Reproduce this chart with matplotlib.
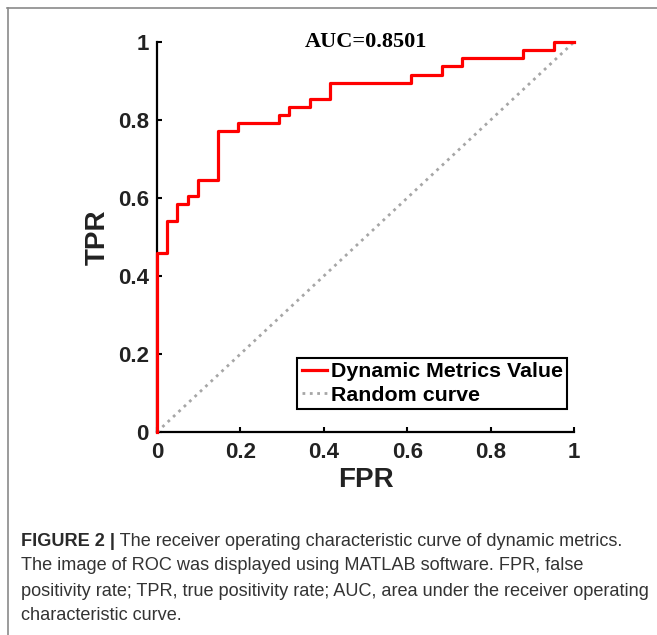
import matplotlib
matplotlib.use("Agg")
import matplotlib.pyplot as plt
from matplotlib.lines import Line2D

plt.rcParams["font.family"] = "Liberation Sans"

# ROC steps (41 negatives, 48 positives -> AUC 0.8501)
N_NEG = 41
N_POS = 48
fpr_counts = [0, 0, 1, 2, 3, 4, 6, 8, 12, 13, 15, 17, 25, 28, 30, 36, 39, 41]
tpr_counts = [0, 22, 26, 28, 29, 31, 37, 38, 39, 40, 41, 43, 44, 45, 46, 47, 48, 48]

random_x = [0, 1]
random_y = [0, 1]

tick_values = [0, 0.2, 0.4, 0.6, 0.8, 1]
tick_labels = ["0", "0.2", "0.4", "0.6", "0.8", "1"]

auc_text = "AUC=0.8501"

caption_bold = "FIGURE 2 |"
caption_lines = [
    " The receiver operating characteristic curve of dynamic metrics.",
    "The image of ROC was displayed using MATLAB software. FPR, false",
    "positivity rate; TPR, true positivity rate; AUC, area under the receiver operating",
    "characteristic curve.",
]

W, H = 657, 635
fig = plt.figure(figsize=(W / 100, H / 100), dpi=100)
fig.patch.set_facecolor("white")

# panel frame (open to the right / bottom like the cropped original)
fig.add_artist(Line2D([7 / W, 1], [1 - 8 / H, 1 - 8 / H], color="#8a8a8a", lw=1.2))
fig.add_artist(Line2D([7.5 / W, 7.5 / W], [0, 1 - 8 / H], color="#8a8a8a", lw=1.2))

ax = fig.add_axes([157 / W, 1 - 432 / H, 417 / W, 390 / H])

fpr = [c / N_NEG for c in fpr_counts]
tpr = [c / N_POS for c in tpr_counts]

ax.step(fpr, tpr, where="post", color="#ff0000", lw=2.3,
        label="Dynamic Metrics Value", clip_on=False, zorder=4)
ax.plot(random_x, random_y, ls=":", color="#a6a6a6", lw=2.0,
        label="Random curve", zorder=3)

ax.set_xlim(0, 1)
ax.set_ylim(0, 1)
ax.set_xticks(tick_values)
ax.set_xticklabels(tick_labels)
ax.set_yticks(tick_values)
ax.set_yticklabels(tick_labels)

for side in ["top", "right"]:
    ax.spines[side].set_visible(False)
for side in ["left", "bottom"]:
    ax.spines[side].set_linewidth(1.6)
    ax.spines[side].set_color("black")

ax.tick_params(direction="in", length=3.6, width=1.5, colors="black",
               labelsize=16, pad=6)
ax.tick_params(axis="x", pad=7)
for lab in ax.get_xticklabels() + ax.get_yticklabels():
    lab.set_fontweight("bold")
    lab.set_color("#222222")

ax.set_xlabel("FPR", fontsize=20, fontweight="bold", color="#222222", labelpad=3)
ax.set_ylabel("TPR", fontsize=20, fontweight="bold", color="#222222", labelpad=5)

ax.text(0.5, 1.0, auc_text, ha="center", va="center", fontsize=16,
        fontweight="bold", family="Liberation Serif", color="black")

leg = ax.legend(loc="lower right", bbox_to_anchor=(0.983, 0.059),
                borderaxespad=0, fancybox=False, framealpha=1,
                edgecolor="black", handlelength=1.2, handletextpad=0.15,
                labelspacing=0.2, borderpad=0.2,
                prop={"family": "Liberation Sans", "weight": "bold", "size": 15.4})
leg.get_frame().set_linewidth(1.5)

# caption
cap_color = "#333333"
cap_size = 13.1
line_y = [541, 566, 591, 616]
t0 = fig.text(21 / W, 1 - line_y[0] / H, caption_bold, fontsize=cap_size,
              fontweight="bold", color="#2a2a2a", ha="left", va="center")
ax.annotate(caption_lines[0], xy=(1, 0.5), xycoords=t0, ha="left", va="center",
            fontsize=cap_size, color=cap_color, annotation_clip=False)
for txt, yy in zip(caption_lines[1:], line_y[1:]):
    fig.text(21 / W, 1 - yy / H, txt, fontsize=cap_size, color=cap_color,
             ha="left", va="center")

fig.savefig("out.png", dpi=100, facecolor="white")
